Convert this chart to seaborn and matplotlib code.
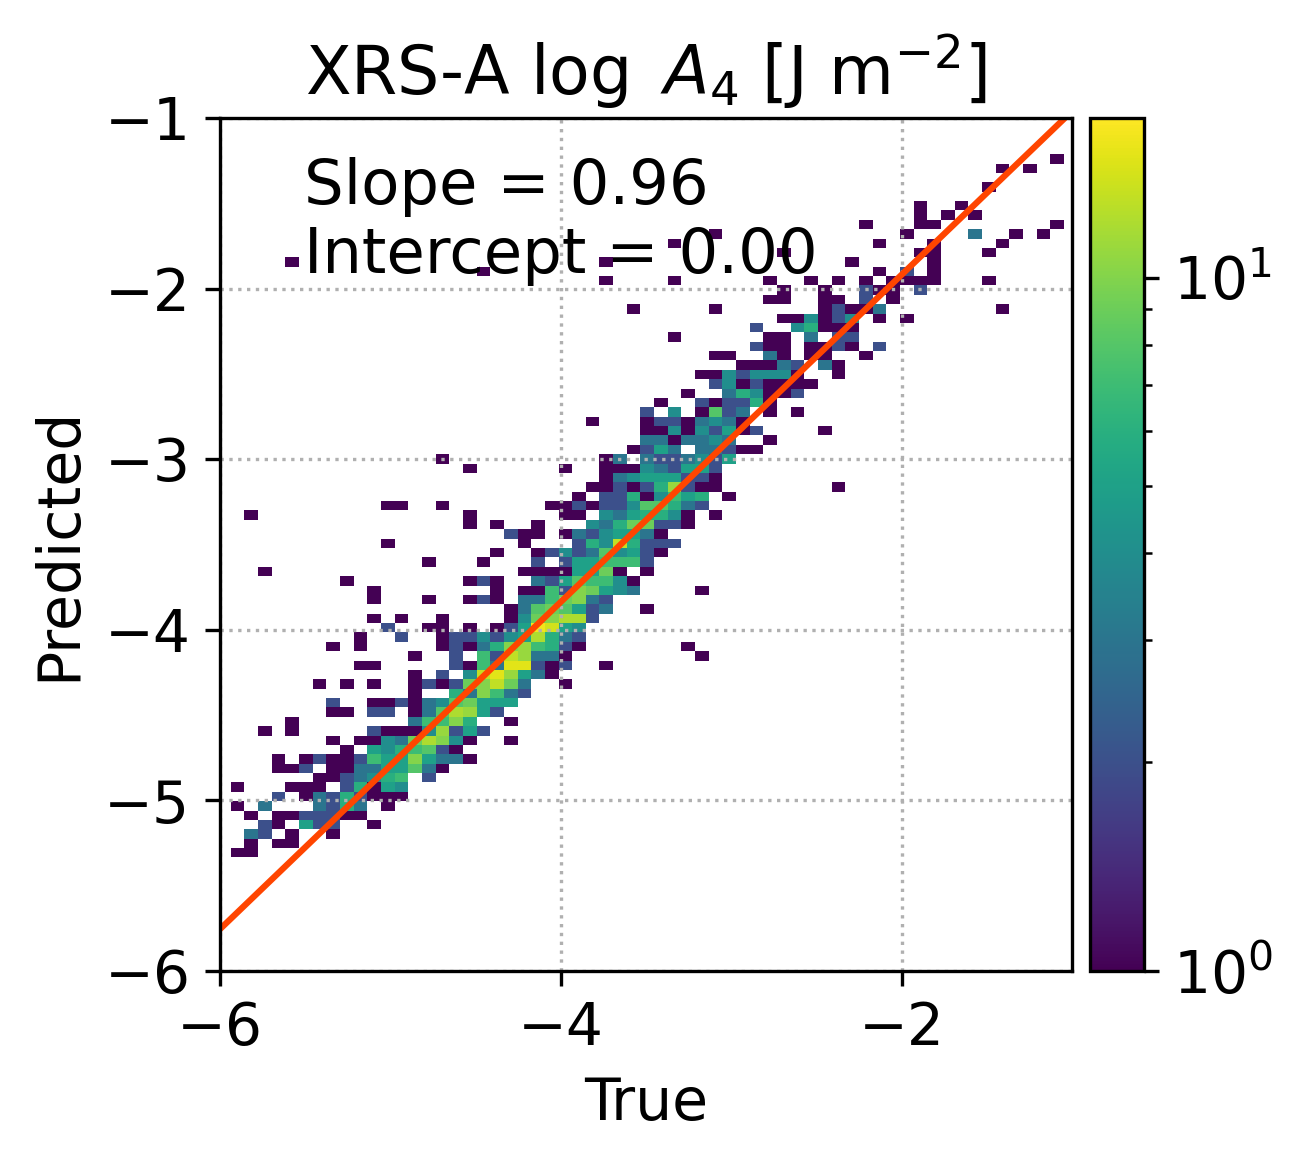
import numpy as np
import matplotlib
matplotlib.use("Agg")
import matplotlib.pyplot as plt
import seaborn as sns
from matplotlib.colors import LogNorm

# occupied cells of the 2d histogram, one entry per row of bins (bottom to top)
row_cols = [
    [0, 1],
    [1, 3, 4],
    [1, 2, 4, 7],
    [2, 3, 5, 6, 7, 10],
    [1, 3, 4, 5, 6, 7, 8, 9],
    [0, 2, 6, 7, 8, 9, 11],
    [3, 5, 6, 7, 8, 9, 10, 11, 12],
    [0, 4, 5, 6, 8, 9, 10, 11, 12],
    [6, 7, 8, 9, 10, 11, 12, 14],
    [3, 4, 5, 7, 8, 9, 10, 11, 12, 13, 14, 15],
    [3, 5, 6, 7, 8, 9, 10, 11, 12, 13, 14, 15, 16, 17],
    [8, 10, 11, 12, 13, 14, 15, 16],
    [7, 9, 10, 11, 12, 13, 14, 15, 16, 17, 20],
    [2, 4, 10, 11, 12, 13, 14, 15, 16, 17, 18],
    [4, 13, 14, 15, 16, 17, 20],
    [7, 8, 10, 11, 13, 14, 15, 16, 17, 18, 19],
    [7, 10, 11, 12, 13, 14, 15, 16, 17, 18, 19, 20],
    [13, 16, 17, 18, 19, 20, 21],
    [6, 8, 10, 13, 14, 15, 16, 17, 18, 19, 20, 21, 24],
    [13, 15, 17, 18, 19, 20, 21, 22, 23],
    [9, 10, 16, 17, 18, 19, 20, 21, 22, 23, 24, 27],
    [13, 16, 18, 19, 20, 21, 22, 23, 24, 34],
    [7, 9, 15, 16, 17, 18, 19, 20, 21, 22, 23, 24, 25, 33],
    [9, 12, 15, 16, 17, 18, 19, 20, 21, 22, 23, 24, 25],
    [11, 14, 15, 17, 19, 20, 21, 22, 23, 24, 25],
    [10, 12, 15, 20, 21, 22, 23, 24, 25, 26],
    [20, 21, 22, 23, 24, 25, 26, 27, 30],
    [10, 14, 17, 18, 19, 21, 22, 23, 24, 25, 26, 27],
    [10, 19, 21, 22, 23, 24, 25, 26, 27, 28, 29, 34],
    [8, 17, 18, 19, 22, 23, 24, 25, 26, 27, 28, 29],
    [2, 21, 22, 23, 24, 25, 26, 27, 28, 30],
    [14, 18, 22, 24, 25, 26, 27, 28, 29, 30],
    [19, 22, 23, 24, 25, 26, 27, 28, 29, 30, 31],
    [11, 21, 25, 26, 27, 28, 29, 30, 31, 32],
    [20, 21, 22, 24, 25, 26, 27, 28, 29, 30, 31],
    [17, 19, 22, 26, 27, 28, 29, 30, 31, 32, 33],
    [1, 17, 24, 25, 27, 28, 29, 30, 31, 32, 33, 35],
    [11, 12, 15, 23, 24, 25, 26, 27, 28, 29, 30, 31, 32, 33, 34],
    [25, 27, 28, 29, 30, 31, 32, 33, 34, 36],
    [26, 27, 28, 29, 30, 31, 32, 33, 34, 35, 44],
    [27, 28, 29, 30, 31, 32, 33, 34, 35],
    [17, 24, 27, 28, 29, 30, 31, 32, 33, 34, 35],
    [15, 27, 28, 30, 31, 32, 33, 34, 35, 36],
    [29, 30, 31, 32, 34, 35, 36, 37, 38],
    [30, 31, 32, 33, 34, 35, 36, 39],
    [30, 31, 32, 33, 34, 35, 36, 37, 38, 43],
    [26, 30, 31, 32, 33, 34, 35, 36, 37],
    [30, 32, 34, 35, 36, 37, 39, 41],
    [31, 34, 35, 36, 37, 38, 39],
    [33, 36, 37, 38, 39, 40, 41],
    [35, 36, 37, 38, 39, 40, 41, 42],
    [34, 35, 36, 37, 38, 39, 40, 41, 44],
    [37, 38, 39, 40, 41, 43, 44],
    [35, 36, 39, 40, 42, 43, 46],
    [38, 39, 40, 42, 43, 44, 45, 47],
    [32, 39, 40, 42, 44, 45],
    [38, 41, 42, 43, 44, 45],
    [40, 41, 42, 43, 44, 45, 47, 49],
    [29, 35, 43, 44, 45, 46, 47, 56],
    [39, 40, 43, 44, 46, 48],
    [40, 43, 46, 47, 48, 50],
    [27, 32, 39, 42, 44, 46, 48, 49, 50, 51, 55],
    [18, 47, 49, 51],
    [4, 27, 45, 51],
    [40, 50, 51, 55],
    [32, 47, 51, 56],
    [35, 49, 54, 57, 59],
    [46, 50, 51, 60],
    [50, 52, 54],
    [50, 53],
    [],
    [55],
    [],
    [56, 58],
    [60],
]

row_counts = [
    [1, 1],
    [1, 1, 1],
    [3, 2, 1, 1],
    [2, 1, 5, 2, 2, 1],
    [1, 1, 1, 2, 2, 2, 1, 1],
    [1, 3, 3, 2, 6, 3, 1],
    [2, 1, 3, 2, 6, 2, 1, 1, 1],
    [1, 1, 1, 1, 2, 6, 1, 5, 4],
    [1, 1, 2, 3, 4, 6, 7, 2],
    [1, 1, 2, 1, 1, 3, 3, 5, 5, 8, 3, 1],
    [1, 1, 2, 1, 1, 2, 7, 5, 5, 10, 5, 3, 3, 1],
    [1, 5, 4, 6, 7, 8, 2, 1],
    [1, 1, 1, 4, 3, 9, 12, 10, 4, 1, 1],
    [1, 1, 2, 1, 1, 1, 4, 11, 2, 5, 2],
    [1, 3, 7, 7, 10, 6, 1],
    [1, 1, 2, 2, 1, 3, 8, 12, 11, 5, 2],
    [2, 1, 1, 2, 1, 3, 4, 8, 9, 5, 5, 5],
    [1, 6, 3, 10, 7, 3, 2],
    [1, 1, 1, 1, 2, 1, 2, 9, 10, 13, 9, 3, 1],
    [1, 2, 4, 13, 15, 11, 5, 3, 1],
    [1, 1, 2, 1, 7, 3, 15, 15, 2, 1, 2, 1],
    [1, 2, 7, 2, 13, 11, 3, 3, 1, 1],
    [1, 1, 1, 2, 1, 3, 6, 10, 11, 7, 6, 2, 1, 1],
    [1, 2, 1, 2, 2, 4, 2, 4, 5, 12, 6, 3, 2],
    [2, 1, 1, 1, 1, 2, 5, 16, 14, 5, 4],
    [1, 1, 1, 1, 4, 9, 10, 12, 12, 2],
    [1, 3, 8, 9, 8, 5, 2, 3, 1],
    [1, 1, 1, 2, 1, 3, 3, 7, 9, 10, 3, 2],
    [1, 1, 1, 1, 7, 2, 10, 9, 5, 4, 3, 1],
    [1, 1, 2, 1, 3, 2, 5, 8, 7, 7, 4, 1],
    [1, 1, 1, 1, 1, 5, 5, 9, 1, 1],
    [1, 1, 2, 2, 5, 5, 7, 7, 7, 2],
    [1, 1, 2, 4, 2, 3, 8, 4, 5, 2, 1],
    [1, 1, 2, 6, 4, 13, 6, 2, 2, 2],
    [2, 1, 1, 1, 3, 2, 4, 5, 5, 3, 1],
    [1, 1, 1, 4, 3, 6, 9, 9, 2, 2, 1],
    [1, 1, 1, 1, 4, 3, 5, 6, 6, 4, 1, 1],
    [1, 1, 1, 1, 1, 2, 1, 2, 2, 4, 8, 8, 6, 3, 2],
    [1, 2, 2, 6, 1, 4, 7, 5, 6, 1],
    [1, 1, 2, 1, 2, 6, 11, 2, 1, 1, 1],
    [1, 3, 4, 5, 5, 5, 2, 2, 1],
    [1, 1, 1, 1, 1, 4, 3, 2, 5, 5, 2],
    [1, 1, 3, 3, 2, 2, 3, 4, 2, 5],
    [1, 2, 5, 3, 3, 3, 2, 1, 1],
    [3, 3, 1, 3, 3, 4, 3, 1],
    [1, 1, 4, 1, 4, 2, 5, 1, 2, 1],
    [1, 1, 2, 2, 1, 3, 4, 3, 1],
    [2, 4, 1, 8, 2, 3, 1, 1],
    [1, 2, 1, 2, 2, 6, 1],
    [1, 3, 6, 4, 1, 1, 2],
    [2, 4, 1, 2, 1, 1, 1, 1],
    [1, 1, 4, 2, 4, 4, 4, 1, 1],
    [1, 1, 1, 3, 2, 3, 1],
    [1, 1, 3, 1, 1, 1, 1],
    [2, 1, 1, 1, 1, 2, 1, 2],
    [1, 1, 1, 3, 2, 2],
    [2, 4, 6, 1, 1, 1],
    [1, 1, 4, 1, 2, 4, 1, 1],
    [1, 1, 1, 2, 1, 1, 3, 1],
    [1, 1, 1, 1, 2, 1],
    [1, 1, 2, 1, 1, 2],
    [1, 1, 1, 1, 1, 1, 1, 1, 1, 1, 1],
    [1, 1, 2, 1],
    [1, 1, 1, 1],
    [1, 1, 1, 1],
    [1, 1, 1, 1],
    [1, 1, 3, 1, 1],
    [1, 1, 1, 1],
    [1, 1, 1],
    [1, 1],
    [],
    [1],
    [],
    [1, 1],
    [1],
]

# bin grid
x_start = -5.934
x_step = 0.0801
n_x = 61
y_start = -5.337
y_step = 0.0550
n_y = 75

slope = 0.96
intercept = 0.00
count_max = 17

plt.rcParams["font.size"] = 14

x_edges = x_start + x_step * np.arange(n_x + 1)
y_edges = y_start + y_step * np.arange(n_y + 1)

x_vals = []
y_vals = []
weights = []
for r, (cols, counts) in enumerate(zip(row_cols, row_counts)):
    for c, n in zip(cols, counts):
        x_vals.append(x_edges[c] + x_step / 2)
        y_vals.append(y_edges[r] + y_step / 2)
        weights.append(n)

W, H = 1303, 1161
fig = plt.figure(figsize=(W / 300, H / 300), dpi=300)
ax = fig.add_axes([219.5 / W, 1 - 970.5 / H, 852.5 / W, 852.5 / H])
cax = fig.add_axes([1090 / W, 1 - 970.5 / H, 54 / W, 852.5 / H])

sns.histplot(
    x=np.array(x_vals),
    y=np.array(y_vals),
    weights=np.array(weights),
    bins=(x_edges, y_edges),
    cmap="viridis",
    ax=ax,
)

mesh = ax.collections[0]
mesh.set_norm(LogNorm(vmin=1, vmax=count_max))
fig.colorbar(mesh, cax=cax)

line_x = np.array([-6, -1])
ax.plot(line_x, slope * line_x + intercept, color="orangered", lw=1.5)

ax.set_xlim(-6, -1)
ax.set_ylim(-6, -1)
ax.set_xticks([-6, -4, -2])
ax.set_yticks([-6, -5, -4, -3, -2, -1])
ax.grid(True, linestyle=":", linewidth=0.8)
ax.set_xlabel("True", labelpad=4.3)
ax.set_ylabel("Predicted")
ax.set_title(r"XRS-A log $\,A_4$ [J m$^{-2}$]", fontsize=16, pad=5.5)
ax.text(-5.505, -1.91, f"Slope = {slope:.2f}\nIntercept = {intercept:.2f}", fontsize=15)

fig.savefig("out.png", dpi=300)
